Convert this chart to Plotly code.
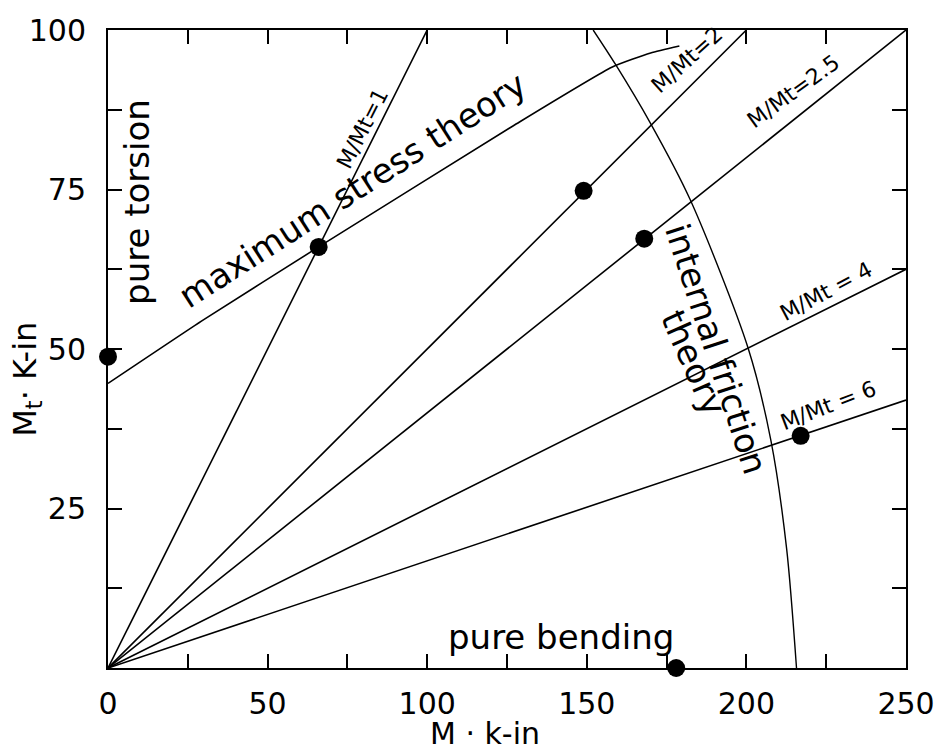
import plotly.graph_objects as go

# ---- data ----
ratios = ["1", "2", "2.5", "4", "6"]
ray_end_x = [100, 200, 250, 250, 250]
ray_end_y = [100, 100, 100, 62.5, 42]

max_stress_x = [0, 30, 66, 127, 158, 170, 179]
max_stress_y = [44.6, 54.6, 66, 85.0, 94.2, 96.4, 97.5]

friction_x = [152, 159, 169.7, 182.3, 200.5, 207.7, 212.6, 215.7]
friction_y = [100, 94.6, 85.6, 73.5, 50.2, 35.6, 18.7, 0]

points_x = [0, 66, 149, 168, 217, 178]
points_y = [48.8, 66, 74.8, 67.3, 36.4, 0]

x_tickvals = [0, 50, 100, 150, 200, 250]
y_tickvals = [25, 50, 75, 100]

FONT = "DejaVu Sans"
fig = go.Figure()

for ex, ey in zip(ray_end_x, ray_end_y):
    fig.add_trace(go.Scatter(x=[0, ex], y=[0, ey], mode="lines",
                             line=dict(color="black", width=1.6), showlegend=False,
                             hoverinfo="skip"))

fig.add_trace(go.Scatter(x=max_stress_x, y=max_stress_y, mode="lines",
                         line=dict(color="black", width=1.6, shape="spline", smoothing=0.5),
                         showlegend=False))
fig.add_trace(go.Scatter(x=friction_x, y=friction_y, mode="lines",
                         line=dict(color="black", width=1.4, shape="spline", smoothing=0.8),
                         showlegend=False))
fig.add_trace(go.Scatter(x=points_x, y=points_y, mode="markers",
                         marker=dict(color="black", size=18), cliponaxis=False,
                         showlegend=False))

ann_font = dict(family=FONT, size=34, color="black")
lab_font = dict(family=FONT, size=22, color="black")
annotations = [
    dict(text="pure torsion", x=9.3, y=73, textangle=-90, font=ann_font),
    dict(text="maximum stress theory", x=76.5, y=75.0, textangle=-32.7, font=ann_font),
    dict(text="internal friction", x=190.6, y=50, textangle=72, font=ann_font),
    dict(text="theory", x=183.5, y=47.8, textangle=66, font=ann_font),
    dict(text="pure bending", x=142, y=4.9, textangle=0, font=ann_font),
    dict(text="M/Mt=" + ratios[0], x=79.7, y=84.6, textangle=-63, font=lab_font),
    dict(text="M/Mt=" + ratios[1], x=181.5, y=95.3, textangle=-42, font=lab_font),
    dict(text="M/Mt=" + ratios[2], x=214.7, y=90.3, textangle=-36, font=lab_font),
    dict(text="M/Mt = " + ratios[3], x=224.9, y=59, textangle=-28, font=lab_font),
    dict(text="M/Mt = " + ratios[4], x=225.6, y=41.2, textangle=-21, font=lab_font),
]
for a in annotations:
    fig.add_annotation(xref="x", yref="y", showarrow=False, xanchor="center",
                       yanchor="middle", **a)

fig.add_annotation(text="M · k-in", xref="paper", yref="paper", x=0.473, y=-0.103,
                   xanchor="center", yanchor="middle",
                   showarrow=False, font=dict(family=FONT, size=30, color="black"))
fig.add_annotation(text="M<sub>t</sub>· K-in", xref="paper", yref="paper", x=-0.1026, y=0.452,
                   xanchor="center", yanchor="middle",
                   textangle=-90, showarrow=False, font=dict(family=FONT, size=32, color="black"))

axis_common = dict(showline=True, linecolor="black", linewidth=2, mirror="allticks",
                   ticks="inside", ticklen=14, tickwidth=1.5, tickcolor="black",
                   showgrid=False, zeroline=False,
                   tickfont=dict(family=FONT, size=30, color="black"))
fig.update_xaxes(range=[0, 250], tickvals=x_tickvals, ticklabelstandoff=8,
                 minor=dict(ticks="inside", ticklen=14, tickwidth=1.5, tickcolor="black", dtick=25, tick0=0),
                 **axis_common)
fig.update_yaxes(range=[0, 100], tickvals=y_tickvals, ticklabelstandoff=14,
                 minor=dict(ticks="inside", ticklen=14, tickwidth=1.5, tickcolor="black", dtick=12.5, tick0=0),
                 **axis_common)

fig.update_layout(width=947, height=755, margin=dict(l=108, r=30, t=20, b=87),
                  plot_bgcolor="white", paper_bgcolor="white", showlegend=False)

fig.write_html("out.html")
